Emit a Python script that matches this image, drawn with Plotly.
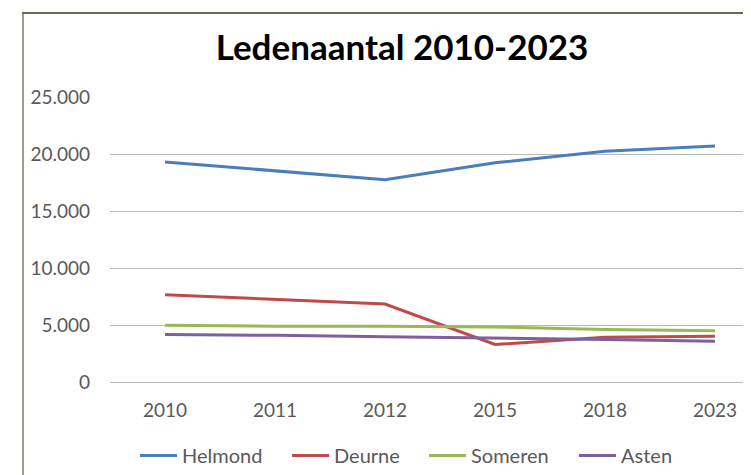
import plotly.graph_objects as go

years = ["2010", "2011", "2012", "2015", "2018", "2023"]
helmond = [19300, 18550, 17750, 19230, 20240, 20700]
deurne = [7650, 7220, 6840, 3290, 3930, 4010]
someren = [4970, 4890, 4880, 4830, 4600, 4490]
asten = [4160, 4100, 3960, 3870, 3730, 3580]

series = [
    ("Helmond", helmond, "#4A7EBB"),
    ("Deurne", deurne, "#BE4B48"),
    ("Someren", someren, "#98B954"),
    ("Asten", asten, "#7D60A0"),
]
legend_starts = [140, 292, 429, 579]  # page px where each legend line begins

# page has an 8px body margin; figure coordinates = page coordinates - 8
OFF = 8
W, H = 751 - OFF, 475 - OFF
L, T = 110 - OFF, 97 - OFF
B = H - (382 - OFF)
R = 0
pw, ph = W - L - R, H - T - B

def px_x(px):
    return (px - OFF - L) / pw

def px_y(py):
    return (H - B - (py - OFF)) / ph

FONT = "Lato, Open Sans, sans-serif"

fig = go.Figure()
legend_layouts = {}
for i, (name, vals, col) in enumerate(series):
    lname = "legend" if i == 0 else f"legend{i + 1}"
    fig.add_trace(go.Scatter(x=years, y=vals, name=name, mode="lines",
                             line=dict(color=col, width=3), legend=lname))
    legend_layouts[lname] = dict(
        orientation="h", x=px_x(legend_starts[i] - 5), xanchor="left",
        y=px_y(456), yanchor="middle", itemwidth=37,
        font=dict(size=20, color="#595959", family=FONT),
        bgcolor="rgba(0,0,0,0)")

fig.update_layout(
    width=W, height=H,
    margin=dict(l=L, r=R, t=T, b=B),
    paper_bgcolor="white", plot_bgcolor="white",
    font=dict(family=FONT, color="#595959", size=19),
    title=dict(text="<b>Ledenaantal 2010-2023</b>", x=(402 - OFF) / W, xanchor="center",
               y=1 - (48 - OFF) / H, yanchor="middle",
               font=dict(size=35, color="black", family=FONT)),
    showlegend=True,
    xaxis=dict(type="category", range=[-0.5, -0.5 + pw / 110], showgrid=False,
               showline=False, ticks="", tickfont=dict(size=19, color="#595959"),
               ticklabelstandoff=15),
    yaxis=dict(range=[0, 25000], tickvals=[0, 5000, 10000, 15000, 20000, 25000],
               ticktext=["0", "5.000", "10.000", "15.000", "20.000", "25.000"],
               showgrid=True, gridcolor="#B8B8B8", gridwidth=1,
               zeroline=True, zerolinecolor="#B8B8B8", zerolinewidth=1,
               showline=False, ticks="", tickfont=dict(size=19, color="#595959"),
               ticklabelstandoff=19),
    shapes=[
        dict(type="line", xref="paper", yref="paper",
             x0=px_x(23), x1=px_x(23), y0=px_y(13), y1=px_y(490),
             line=dict(color="#9A9A8E", width=2)),
        dict(type="line", xref="paper", yref="paper",
             x0=px_x(22), x1=px_x(780), y0=px_y(13), y1=px_y(13),
             line=dict(color="#626C52", width=2)),
    ],
    **legend_layouts,
)

fig.write_html("out.html")
